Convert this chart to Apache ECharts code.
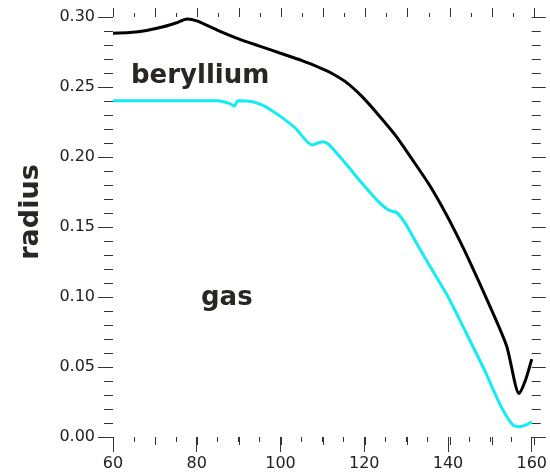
<!DOCTYPE html>
<html>
<head>
<meta charset="utf-8">
<script src="https://cdn.jsdelivr.net/npm/echarts@6/dist/echarts.min.js"></script>
<style>
  html, body { margin: 0; padding: 0; background: #fff; }
  #chart { width: 550px; height: 474px; }
</style>
</head>
<body>
<div id="chart"></div>
<script>
// values
const berylliumX = [60, 64, 68, 72, 75, 77.7, 80, 85, 90, 95, 100, 105, 110, 112, 115.5, 119.5, 123.5, 127.5, 131.5, 135.5, 139.5, 142.5, 145, 150, 154, 157, 158.5, 160];
const berylliumR = [0.2884, 0.2889, 0.2904, 0.2930, 0.2957, 0.2986, 0.2972, 0.2905, 0.2844, 0.2792, 0.2741, 0.2690, 0.2630, 0.2602, 0.2538, 0.2431, 0.2297, 0.2153, 0.1981, 0.1803, 0.1595, 0.1421, 0.1266, 0.0935, 0.0650, 0.0310, 0.0405, 0.0556];

const gasX = [60, 85, 87.8, 89, 89.8, 93.3, 95.7, 97.5, 100, 103.6, 107.6, 110, 111.5, 115.5, 119.5, 123.4, 125.8, 127.8, 129.8, 132, 135, 140, 144, 148.7, 152.7, 155.5, 157.1, 158.5, 160];
const gasR = [0.2402, 0.2402, 0.2383, 0.2364, 0.2402, 0.2395, 0.2371, 0.2340, 0.2290, 0.2205, 0.2086, 0.2109, 0.2090, 0.1955, 0.1812, 0.1681, 0.1621, 0.1602, 0.1526, 0.1411, 0.1255, 0.1002, 0.0764, 0.0479, 0.0217, 0.0086, 0.0074, 0.0085, 0.0109];

const xRange = [60, 160];
const yRange = [0, 0.30];

const chart = echarts.init(document.getElementById('chart'));

const tickColor = '#333';
const labelFont = { fontFamily: 'DejaVu Sans', fontSize: 16, color: '#222' };
const plotBox = () => ({ left: 113, right: 16, top: 17, bottom: 37 });
const topStrip = () => ({ left: 113, right: 16, top: 0, height: 17 });
const noLine = () => ({ show: false, onZero: false });

// tick-only x axis living in its own grid
const tickAxis = (gridIndex, position, interval, length, inside) => ({
  type: 'value', gridIndex, position,
  min: xRange[0], max: xRange[1], interval,
  axisLine: { show: true, onZero: false, lineStyle: { color: '#fff', opacity: 0 } },
  axisTick: { show: true, inside: !!inside, length, lineStyle: { color: tickColor } },
  splitLine: { show: false },
  axisLabel: { show: true, color: 'rgba(0,0,0,0)', fontSize: 1 }
});

// companion y axis for the tick-only grids, nothing drawn
const blankY = gridIndex => ({
  type: 'value', gridIndex, min: 0, max: 1,
  axisLine: { show: false }, axisTick: { show: false },
  axisLabel: { show: false }, splitLine: { show: false }
});

const option = {
  animation: false,
  grid: [plotBox(), plotBox(), plotBox(), plotBox(), topStrip(), topStrip()],
  xAxis: [
    {
      // bottom axis with labels, ticks every 20, minors every 5
      type: 'value', gridIndex: 0, position: 'bottom',
      min: xRange[0], max: xRange[1], interval: 20,
      axisLine: noLine(),
      axisTick: { show: true, length: 15, lineStyle: { color: tickColor } },
      minorTick: { show: true, splitNumber: 4, length: 5, lineStyle: { color: tickColor } },
      splitLine: { show: false },
      axisLabel: { ...labelFont, margin: 19 }
    },
    tickAxis(1, 'bottom', 10, 8),
    // top edge ticks, two ways: top axis of the plot box ...
    tickAxis(2, 'top', 10, 9),
    tickAxis(3, 'top', 5, 4),
    // ... and inside ticks on the bottom of a strip above the plot
    tickAxis(4, 'bottom', 10, 9, true),
    tickAxis(5, 'bottom', 5, 4, true)
  ],
  yAxis: [
    {
      type: 'value', gridIndex: 0, position: 'left',
      min: yRange[0], max: yRange[1], interval: 0.05,
      axisLine: noLine(),
      axisTick: { show: true, length: 15, lineStyle: { color: tickColor } },
      minorTick: { show: true, splitNumber: 5, length: 9, lineStyle: { color: tickColor } },
      splitLine: { show: false },
      axisLabel: { ...labelFont, margin: 18, formatter: v => v.toFixed(2) }
    },
    {
      type: 'value', gridIndex: 0, position: 'right',
      min: yRange[0], max: yRange[1], interval: 0.05,
      axisLine: noLine(),
      axisTick: { show: true, length: 14, lineStyle: { color: tickColor } },
      minorTick: { show: true, splitNumber: 5, length: 9, lineStyle: { color: tickColor } },
      splitLine: { show: false },
      axisLabel: { show: false }
    },
    blankY(1), blankY(2), blankY(3), blankY(4), blankY(5)
  ],
  series: [
    {
      name: 'beryllium',
      type: 'line',
      xAxisIndex: 0, yAxisIndex: 0,
      data: berylliumX.map((x, i) => [x, berylliumR[i]]),
      showSymbol: false,
      smooth: 0.25,
      lineStyle: { color: '#000', width: 3 },
      z: 3
    },
    {
      name: 'gas',
      type: 'line',
      xAxisIndex: 0, yAxisIndex: 0,
      data: gasX.map((x, i) => [x, gasR[i]]),
      showSymbol: false,
      smooth: 0.25,
      lineStyle: { color: '#14ecf4', width: 3 },
      z: 2
    }
  ],
  graphic: [
    {
      type: 'text', x: 31, y: 212, rotation: Math.PI / 2,
      style: { text: 'radius', font: 'bold 27px "DejaVu Sans"', fill: '#2a2622', align: 'center', verticalAlign: 'middle' }
    },
    {
      type: 'text', x: 131, y: 76,
      style: { text: 'beryllium', font: 'bold 26px "DejaVu Sans"', fill: '#2a2622', align: 'left', verticalAlign: 'middle' }
    },
    {
      type: 'text', x: 201, y: 298,
      style: { text: 'gas', font: 'bold 26px "DejaVu Sans"', fill: '#2a2622', align: 'left', verticalAlign: 'middle' }
    }
  ]
};

chart.setOption(option);
window.addEventListener('resize', () => chart.resize());
</script>
</body>
</html>
